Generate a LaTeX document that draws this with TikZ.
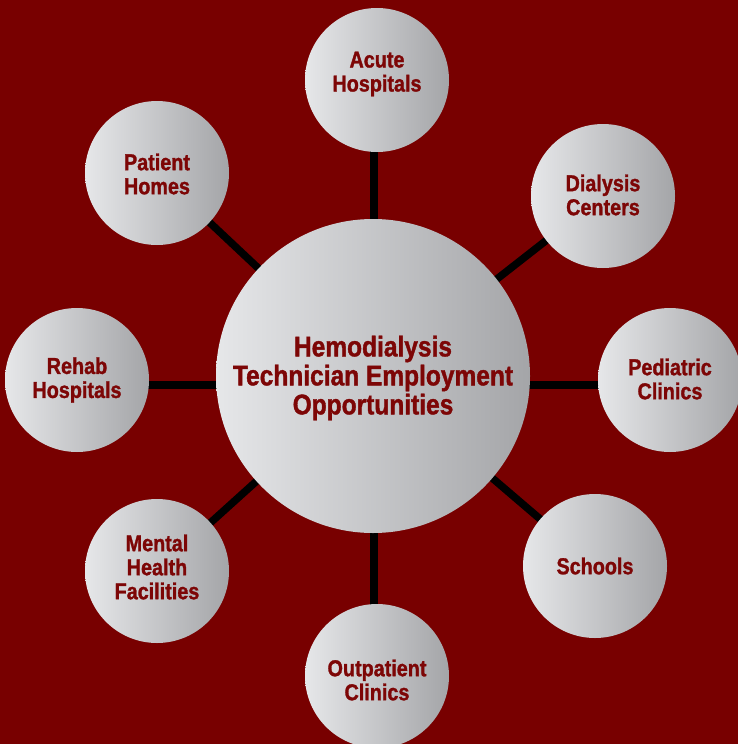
\documentclass[tikz,border=0pt]{standalone}
\usepackage{fontspec}
\setmainfont{Liberation Sans}[FakeStretch=0.86, BoldFeatures={FakeBold=1.3}]
\definecolor{bgred}{RGB}{120,0,0}
\definecolor{txtred}{RGB}{125,6,6}
\definecolor{ballL}{RGB}{230,231,233}
\definecolor{ballR}{RGB}{164,165,168}
\pgfdeclarelayer{back}
\pgfdeclarelayer{bg}
\pgfsetlayers{back,bg,main}
\tikzset{
  ball/.style={circle, inner sep=0pt, minimum size=#1, left color=ballL, right color=ballR, draw=none},
  lbl/.style={text=txtred, font=\fontsize{23}{24}\selectfont\bfseries, align=center, inner sep=0pt},
  biglbl/.style={text=txtred, font=\fontsize{28.5}{29}\selectfont\bfseries, align=center, inner sep=0pt},
  link/.style={line width=7.5pt, draw=black}
}
\begin{document}
\begin{tikzpicture}[x=1pt,y=-1pt]
\clip (0,0) rectangle (738,744);
\begin{pgfonlayer}{back}
\fill[bgred] (0,0) rectangle (738,744);
\end{pgfonlayer}
\node[ball=314pt] (c) at (373,376) {};
\node[ball=144pt] (acute) at (377,80) {};
\node[ball=144pt] (dial) at (603,196) {};
\node[ball=144pt] (ped) at (670,380) {};
\node[ball=144pt] (sch) at (595,566) {};
\node[ball=144pt] (out) at (377,676) {};
\node[ball=144pt] (ment) at (157,571) {};
\node[ball=144pt] (reh) at (77,380) {};
\node[ball=144pt] (pat) at (157,173) {};
\begin{pgfonlayer}{bg}
\draw[link] ([xshift=1pt]c.center) -- ([xshift=-3pt]acute.center);
\draw[link] ([xshift=1pt]c.center) -- ([xshift=-3pt]out.center);
\draw[link] ([yshift=-9pt]c.center) -- ([yshift=-5pt]ped.center);
\draw[link] ([yshift=-9pt]c.center) -- ([yshift=-5pt]reh.center);
\foreach \n in {dial,sch,ment,pat}
  \draw[link] (c.center) -- (\n.center);
\end{pgfonlayer}
\node[biglbl] (tc) at (373,378) {Hemodialysis\\Technician Employment\\Opportunities};
\node[lbl] (tacute) at (377,74) {Acute\\Hospitals};
\node[lbl] (tdial) at (603,195) {Dialysis\\Centers};
\node[lbl] (tped) at (670,379) {Pediatric\\Clinics};
\node[lbl] (tsch) at (595,566) {Schools};
\node[lbl] (tout) at (377,680) {Outpatient\\Clinics};
\node[lbl] (tment) at (157,567) {Mental\\Health\\Facilities};
\node[lbl] (treh) at (77,380) {Rehab\\Hospitals};
\node[lbl] (tpat) at (157,174) {Patient\\Homes};
\end{tikzpicture}
\end{document}
